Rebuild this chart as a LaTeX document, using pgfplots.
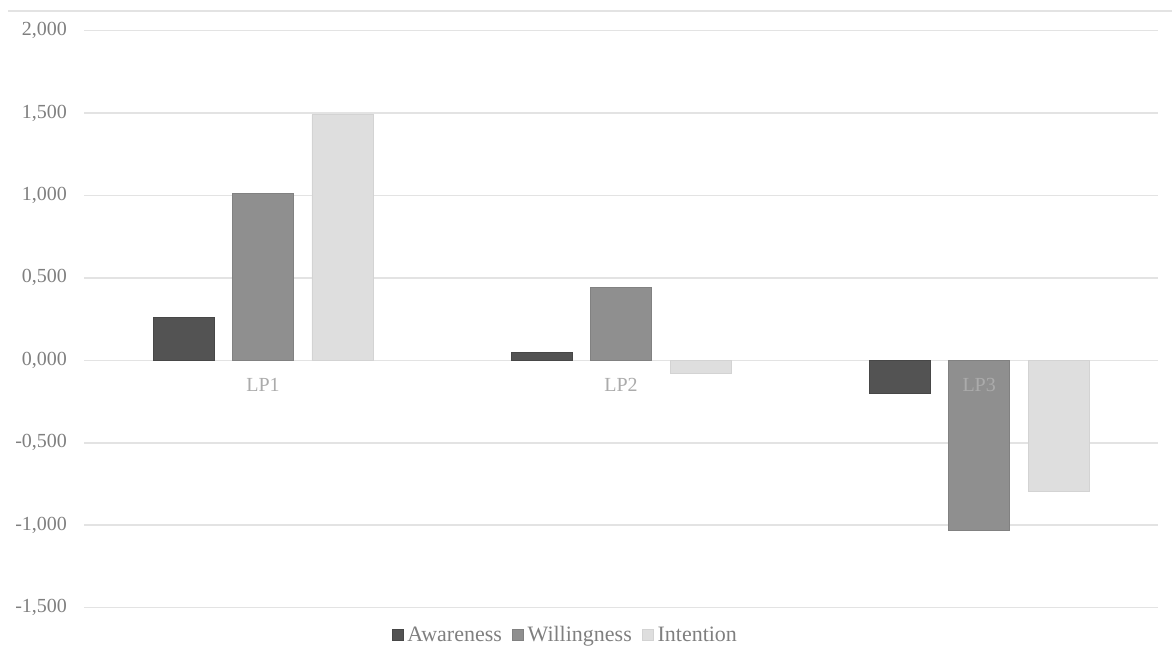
\documentclass[border=0pt]{standalone}
\usepackage{pgfplots}
\pgfplotsset{compat=1.18}
\usepackage{fontspec}
\setmainfont{Liberation Serif}
\definecolor{cA}{HTML}{535353}
\definecolor{cW}{HTML}{8F8F8F}
\definecolor{cI}{HTML}{DEDEDE}
\definecolor{gridc}{HTML}{E3E3E3}
\definecolor{tickc}{HTML}{7F7F7F}
\definecolor{catc}{HTML}{ABABAB}
\pgfplotsset{
  layers/labelsontop/.define layer set={
    axis background,axis grid,axis ticks,axis lines,main,axis tick labels,axis descriptions,axis foreground
  }{/pgfplots/layers/standard},
}
\begin{document}
\begin{tikzpicture}
\begin{axis}[
  set layers=labelsontop,
  at={(0pt,0pt)}, anchor=south west,
  scale only axis,
  width=537.5pt, height=288.7pt,
  ybar=9.25pt, bar width=30.5pt,
  xmin=0.5, xmax=3.5,
  ymin=-1.5, ymax=2.0,
  xtick={1,2,3},
  xticklabels={LP1,LP2,LP3},
  ytick={-1.5,-1,-0.5,0,0.5,1,1.5,2},
  yticklabels={{-1,500},{-1,000},{-0,500},{0,000},{0,500},{1,000},{1,500},{2,000}},
  ymajorgrids,
  grid style={gridc, line width=0.8pt},
  axis line style={draw=none},
  major tick length=0pt,
  yticklabel style={font=\fontsize{10}{12}\selectfont, text=tickc, xshift=-5pt},
  xticklabel style={font=\fontsize{10}{12}\selectfont, text=catc, anchor=center, yshift=111.2pt},
  legend style={draw=none, fill=none, at={(0.449,-0.048)}, anchor=center,
    font=\fontsize{11}{13}\selectfont, text=tickc, legend columns=-1,
    /tikz/every even column/.append style={column sep=3pt}},
  legend image code/.code={\fill[#1] (0pt,-2.7pt) rectangle (5.5pt,2.7pt);},
  clip=false,
]
\addplot[fill=cA, draw=cA!85!black, line width=0.4pt] coordinates {(1,0.26) (2,0.05) (3,-0.20)};
\addplot[fill=cW, draw=cW!90!black, line width=0.4pt] coordinates {(1,1.01) (2,0.44) (3,-1.03)};
\addplot[fill=cI, draw=cI!95!black, line width=0.4pt] coordinates {(1,1.49) (2,-0.08) (3,-0.795)};
\legend{Awareness,Willingness,Intention}
\end{axis}
\draw[gridc, line width=0.8pt] (-38pt,298.6pt) -- (544.5pt,298.6pt);
\path (-42pt,-29pt) rectangle (544.5pt,304pt);
\end{tikzpicture}
\end{document}
